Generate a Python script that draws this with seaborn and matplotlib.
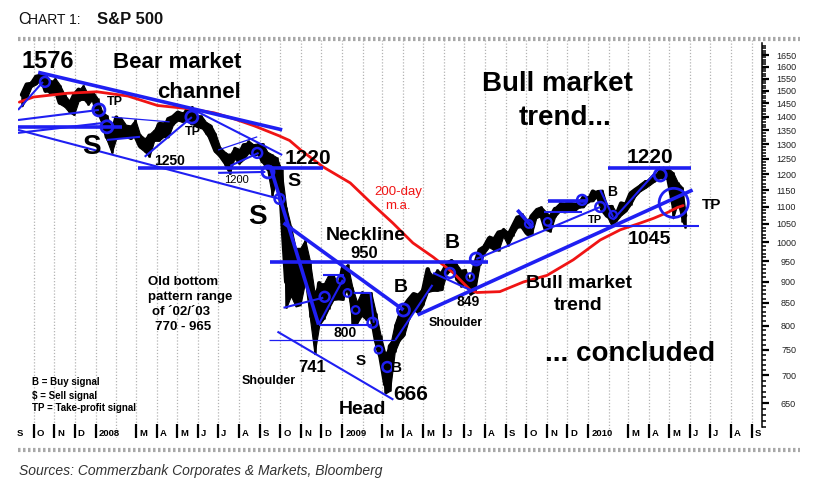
import pandas as pd
import matplotlib
matplotlib.use("Agg")
import matplotlib.pyplot as plt
import matplotlib.dates as mdates
import seaborn as sns
from matplotlib.lines import Line2D
from matplotlib.ticker import FixedLocator, FuncFormatter, NullFormatter

# weekly S&P 500 (Friday), Sep 2007 - May 2010
week_dates = list(pd.date_range("2007-09-14", "2010-05-21", freq="W-FRI")) + [pd.Timestamp("2010-05-25")]

close_px = [1484, 1525, 1527, 1557, 1561, 1500, 1536, 1510, 1453, 1458, 1440, 1481, 1504, 1468, 1484, 1478,
            1411, 1401, 1325, 1331, 1396, 1332, 1349, 1353, 1331, 1294, 1288, 1330, 1316, 1370, 1332, 1390, 1398,
            1414, 1389, 1426, 1375, 1400, 1361, 1360, 1318, 1278, 1262, 1240, 1261, 1257, 1260, 1296, 1298, 1292,
            1283, 1242, 1252, 1255, 1213, 1099, 899, 940, 877, 969, 930, 873, 800, 896, 876, 879, 888, 873,
            932, 890, 850, 832, 826, 869, 827, 770, 735, 683, 757, 769, 816, 843, 857, 870, 866,
            877, 930, 883, 887, 919, 940, 946, 921, 918, 896, 880, 941, 979, 987, 1010, 1005, 1026, 1029,
            1016, 1042, 1068, 1044, 1025, 1071, 1087, 1080, 1036, 1069, 1093, 1091, 1091, 1106, 1106, 1102, 1127,
            1115, 1145, 1136, 1092, 1074, 1066, 1075, 1109, 1105, 1139, 1150, 1160, 1167, 1179, 1194, 1192, 1217,
            1187, 1111, 1136, 1088, 1074]
high_px = [1489, 1530, 1538, 1561, 1576, 1564, 1536, 1552, 1525, 1486, 1462, 1488, 1504, 1523, 1485, 1498,
           1471, 1418, 1405, 1355, 1396, 1396, 1370, 1367, 1389, 1335, 1321, 1336, 1352, 1380, 1378, 1395, 1399,
           1422, 1416, 1426, 1440, 1406, 1404, 1380, 1370, 1338, 1290, 1274, 1263, 1291, 1284, 1297, 1313, 1300,
           1303, 1304, 1274, 1265, 1255, 1215, 1099, 1044, 985, 985, 1007, 953, 875, 896, 896, 918, 918, 888,
           934, 943, 888, 852, 877, 870, 875, 828, 780, 743, 758, 804, 833, 845, 857, 870, 871,
           888, 930, 916, 930, 920, 951, 956, 946, 929, 931, 898, 941, 979, 996, 1018, 1013, 1027, 1039,
           1028, 1045, 1074, 1080, 1063, 1071, 1096, 1101, 1086, 1072, 1099, 1113, 1112, 1119, 1107, 1120, 1129,
           1131, 1145, 1150, 1151, 1104, 1105, 1083, 1110, 1112, 1139, 1151, 1170, 1181, 1181, 1194, 1214, 1217,
           1219, 1206, 1174, 1158, 1088]
low_px = [1439, 1471, 1516, 1526, 1546, 1500, 1489, 1492, 1448, 1437, 1416, 1406, 1460, 1467, 1445, 1467,
          1411, 1370, 1313, 1270, 1322, 1324, 1325, 1318, 1330, 1287, 1274, 1257, 1312, 1312, 1326, 1324, 1370,
          1385, 1380, 1386, 1373, 1362, 1360, 1335, 1316, 1272, 1260, 1228, 1200, 1251, 1234, 1248, 1270, 1261,
          1265, 1236, 1212, 1133, 1180, 1098, 839, 866, 842, 845, 899, 818, 741, 801, 815, 837, 857, 858,
          857, 888, 804, 805, 821, 812, 818, 754, 731, 667, 672, 745, 768, 779, 814, 834, 826,
          845, 875, 878, 878, 880, 919, 928, 904, 888, 895, 869, 875, 941, 971, 987, 979, 978, 1016,
          991, 1017, 1040, 1041, 1020, 1020, 1067, 1072, 1033, 1029, 1071, 1086, 1083, 1086, 1085, 1097, 1098,
          1115, 1116, 1131, 1090, 1072, 1044, 1059, 1075, 1086, 1105, 1131, 1146, 1155, 1165, 1176, 1186, 1188,
          1183, 1066, 1110, 1056, 1040]

# 200-day moving average
ma_dates = ["2007-09-10", "2007-10-01", "2007-11-20", "2008-01-03", "2008-02-18", "2008-04-02", "2008-05-17",
            "2008-06-25", "2008-07-25", "2008-08-24", "2008-09-29", "2008-10-15", "2008-11-01", "2008-12-04",
            "2009-01-13", "2009-02-16", "2009-03-17", "2009-04-16", "2009-05-16", "2009-06-15", "2009-07-10",
            "2009-07-20", "2009-08-23", "2009-09-27", "2009-11-01", "2009-12-10", "2010-01-19", "2010-02-18",
            "2010-03-20", "2010-04-08", "2010-04-29", "2010-05-13", "2010-05-22"]
ma_values = [1455, 1475, 1490, 1496, 1479, 1442, 1430, 1414, 1391, 1365, 1330, 1313, 1279, 1223,
             1172, 1105, 1053, 998, 961, 921, 880, 874, 876, 899, 915, 954, 1006, 1034,
             1053, 1066, 1083, 1097, 1103]

# hand-drawn trend lines (date, level)
lines_thick = [
    [("2007-10-08", 1576), ("2008-10-04", 1351)],
    [("2007-09-08", 1362), ("2008-02-10", 1362)],
    [("2008-03-04", 1220), ("2008-12-04", 1220)],
    [("2008-09-16", 1227), ("2008-11-27", 802)],
    [("2008-10-06", 1053), ("2009-04-02", 834)],
    [("2008-09-16", 949), ("2009-08-06", 949)],
    [("2009-04-23", 823), ("2010-06-05", 1150)],
    [("2009-11-03", 1117), ("2009-12-31", 1117)],
    [("2009-09-18", 1090), ("2009-10-11", 1039)],
    [("2010-01-31", 1220), ("2010-06-03", 1220)],
]
lines_mid = [
    [("2007-09-08", 1425), ("2007-10-15", 1536)],
    [("2007-09-08", 1387), ("2008-01-06", 1425)],
    [("2007-09-08", 1351), ("2008-09-30", 1123)],
    [("2007-09-08", 1340), ("2008-01-12", 1376)],
    [("2008-01-18", 1315), ("2008-03-07", 1326)],
    [("2008-03-14", 1257), ("2008-05-23", 1398)],
    [("2008-05-20", 1433), ("2008-10-04", 1263)],
    [("2008-07-01", 1204), ("2008-09-09", 1207)],
    [("2008-07-19", 1227), ("2008-08-30", 1270)],
    [("2008-10-06", 839), ("2008-12-04", 862)],
    [("2008-11-27", 802), ("2009-02-15", 802)],
    [("2008-11-27", 802), ("2009-01-02", 904)],
    [("2008-12-04", 916), ("2009-01-03", 916)],
    [("2009-01-18", 873), ("2009-02-12", 873), ("2009-02-17", 806)],
    [("2008-09-27", 787), ("2009-03-18", 656)],
    [("2009-03-21", 770), ("2009-05-15", 892)],
    [("2009-05-16", 921), ("2009-07-10", 880)],
    [("2009-07-19", 956), ("2010-01-19", 1099)],
    [("2009-11-03", 1045), ("2010-06-15", 1045)],
    [("2009-10-27", 1085), ("2009-12-23", 1085)],
    [("2010-01-19", 1150), ("2010-02-07", 1070)],
    [("2010-02-07", 1062), ("2010-04-18", 1223)],
]
lines_thin = [
    [("2008-01-25", 1398), ("2008-04-20", 1380)],
    [("2008-07-01", 1280), ("2008-08-28", 1326)],
    [("2008-09-15", 770), ("2009-03-21", 770)],
]

# signal circles
circ_small = [("2008-12-30", 904), ("2009-01-09", 873), ("2009-01-21", 834), ("2009-02-24", 750),
              ("2009-07-10", 911), ("2009-10-05", 1050), ("2009-11-02", 1056), ("2010-02-07", 1076)]
circ_mid = [("2007-10-18", 1536), ("2008-08-28", 1270), ("2008-09-30", 1123), ("2008-12-06", 864),
            ("2009-02-15", 806), ("2009-03-09", 716), ("2009-06-10", 921), ("2009-12-23", 1120),
            ("2010-01-19", 1099)]
circ_large = [("2008-01-06", 1425), ("2008-01-18", 1362), ("2008-05-23", 1398), ("2008-09-13", 1207),
              ("2009-04-02", 834), ("2009-07-19", 956), ("2010-04-18", 1197)]
circ_tp = [("2010-05-08", 1111)]

W, H = 819, 487
BLUE = "#1f1ff2"
RED = "#f01414"

sns.set_theme(style="white")
plt.rcParams["font.family"] = ["Liberation Sans", "DejaVu Sans"]

fig = plt.figure(figsize=(W / 100, H / 100), dpi=100)
ax = fig.add_axes([18 / W, 1 - 438 / H, (762 - 18) / W, (438 - 39) / H])
ax.set_yscale("log")

price = pd.DataFrame({"date": week_dates, "high": high_px, "low": low_px, "close": close_px})
xd = mdates.date2num(price["date"])
ax.fill_between(xd, price["low"], price["high"], color="black", lw=0.8, zorder=2)
ax.vlines(xd, price["low"], price["high"], color="black", lw=1.8, zorder=2)
sns.lineplot(data=price, x="date", y="close", color="black", lw=3.2, ax=ax, zorder=2)

ma = pd.DataFrame({"date": pd.to_datetime(ma_dates), "ma": ma_values})
sns.lineplot(data=ma, x="date", y="ma", color=RED, lw=2.0, ax=ax, zorder=3)


def draw_lines(segs, lw):
    for seg in segs:
        d = mdates.date2num(pd.to_datetime([p[0] for p in seg]))
        v = [float(p[1]) for p in seg]
        ax.plot(d, v, color=BLUE, lw=lw, zorder=4, solid_capstyle="butt")


draw_lines(lines_thick, 2.6)
draw_lines(lines_mid, 1.5)
draw_lines(lines_thin, 0.9)


def draw_circles(pts, s, lw):
    d = mdates.date2num(pd.to_datetime([p[0] for p in pts]))
    v = [float(p[1]) for p in pts]
    ax.scatter(d, v, s=s, facecolors="none", edgecolors=BLUE, linewidths=lw, zorder=5)


draw_circles(circ_small, 30, 1.6)
draw_circles(circ_mid, 50, 1.8)
draw_circles(circ_large, 75, 2.0)
draw_circles(circ_tp, 440, 2.0)

# axes / scales
ax.set_xlim(mdates.date2num(pd.Timestamp("2007-09-08")), mdates.date2num(pd.Timestamp("2010-09-16")))
ax.set_ylim(592, 1723)
ax.set_xlabel("")
ax.set_ylabel("")
for side in ["top", "left", "bottom"]:
    ax.spines[side].set_visible(False)
ax.spines["right"].set_visible(True)
ax.spines["right"].set_color("black")
ax.spines["right"].set_linewidth(1.1)
ax.spines["right"].set_bounds(610, 1705)

ax.yaxis.tick_right()
majors = list(range(650, 1651, 50))
ax.yaxis.set_major_locator(FixedLocator(majors))
ax.yaxis.set_minor_locator(FixedLocator([v for v in range(610, 1700, 10) if v % 50]))
ax.yaxis.set_major_formatter(FuncFormatter(lambda v, p: f"{v:.0f}"))
ax.yaxis.set_minor_formatter(NullFormatter())
ax.tick_params(axis="y", which="major", direction="out", length=5, width=1.6, colors="black",
               labelsize=6.5, labelcolor="#222222", pad=19.5, right=True, left=False)
ax.tick_params(axis="y", which="minor", direction="out", length=3, width=1.1, colors="black",
               right=True, left=False)
for t in ax.yaxis.get_majorticklabels():
    t.set_horizontalalignment("right")

ax.xaxis.set_major_locator(mdates.MonthLocator(bymonth=[1, 3, 4, 5, 6, 7, 8, 9, 10, 11, 12]))
ax.xaxis.set_minor_locator(mdates.MonthLocator(bymonth=[2]))
ax.xaxis.set_major_formatter(NullFormatter())
ax.tick_params(axis="x", which="major", direction="in", length=10, width=1.6, colors="black", bottom=True)
ax.tick_params(axis="x", which="minor", length=0)
ax.grid(False)
ax.xaxis.grid(True, which="both", color="#b4b4b4", lw=0.9, ls=(0, (1, 1.5)))

month_starts = pd.date_range("2007-09-01", "2010-09-01", freq="MS")
letters = "JFMAMJJASOND"
for d in month_starts:
    if d.month == 2:
        continue
    lab = str(d.year) if d.month == 1 else letters[d.month - 1]
    ax.annotate(lab, xy=(mdates.date2num(d), 0), xycoords=ax.get_xaxis_transform(), xytext=(2.2, 3.0),
                textcoords="offset points", ha="left", va="center", fontsize=6.8,
                fontweight="bold", color="black", annotation_clip=False)

# frame lines
for yy in (39, 450):
    fig.add_artist(Line2D([18 / W, 800 / W], [1 - yy / H, 1 - yy / H], color="#a8a8a8",
                          lw=3, ls=(0, (0.6, 0.6))))


def put(s, x, y, size, weight="bold", color="black", ha="center"):
    fig.text(x / W, 1 - y / H, s, fontsize=size, fontweight=weight, color=color, ha=ha, va="center")


put("1576", 48, 62, 17)
put("Bear market", 177, 63, 16)
put("channel", 199, 92, 16)
put("TP", 115, 102, 9)
put("TP", 193, 132, 9)
put("S", 91, 147, 20)
put("1250", 170, 161, 10)
put("1200", 236, 180, 8, weight="normal")
put("1220", 308, 158, 15)
put("S", 294, 182, 14)
put("S", 257, 217, 20)
put("200-day", 398, 192, 9.5, weight="normal", color=RED)
put("m.a.", 398, 206, 9.5, weight="normal", color=RED)
put("Neckline", 366, 235, 14)
put("950", 364, 254, 12)
put("B", 452, 243, 15)
put("B", 401, 288, 14)
put("849", 468, 302, 10)
put("Shoulder", 456, 323, 9)
put("Old bottom", 148, 282, 9.5, ha="left")
put("pattern range", 148, 297, 9.5, ha="left")
put("of \u00b402/\u00b403", 152, 312, 9.5, ha="left")
put("770 - 965", 155, 327, 9.5, ha="left")
put("800", 345, 333, 10)
put("741", 312, 367, 12)
put("Shoulder", 269, 381, 9)
put("S", 361, 361, 11)
put("B", 397, 368, 11)
put("666", 411, 394, 15)
put("Head", 362, 410, 14)
put("B = Buy signal", 32, 382, 7, ha="left")
put(r"\$ = Sell signal", 32, 396, 7, ha="left")
put("TP = Take-profit signal", 32, 408, 7, ha="left")
put("Bull market", 557, 84, 20)
put("trend...", 565, 118, 20)
put("1220", 650, 157, 15)
put("B", 612, 192, 10)
put("TP", 595, 220, 8)
put("TP", 712, 205, 11)
put("1045", 649, 240, 14)
put("Bull market", 579, 284, 14)
put("trend", 578, 306, 14)
put("... concluded", 630, 354, 20)

# title and source
fig.text(18 / W, 1 - 24 / H, "C", fontsize=11.5, va="baseline", color="#111111")
fig.text(28.5 / W, 1 - 24 / H, "HART 1:", fontsize=10, va="baseline", color="#111111")
fig.text(97 / W, 1 - 24 / H, "S&P 500", fontsize=12, fontweight="bold", va="baseline", color="#111111")
fig.text(19 / W, 1 - 471 / H, "Sources: Commerzbank Corporates & Markets, Bloomberg", fontsize=10,
         style="italic", va="center", color="#333333")

fig.savefig("out.png", dpi=100)
